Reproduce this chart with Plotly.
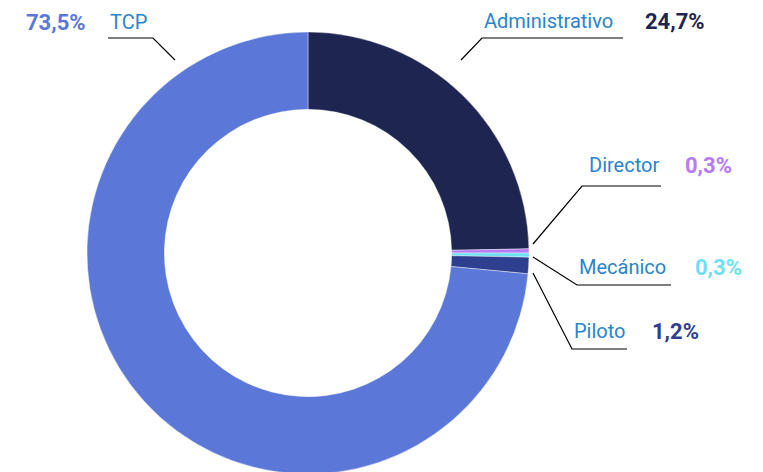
import plotly.graph_objects as go

W, H = 763, 472
OFF = 8  # page body margin

# Data
labels = ['Administrativo', 'Director', 'Mecánico', 'Piloto', 'TCP']
values = [24.7, 0.3, 0.3, 1.2, 73.5]
pct_text = ['24,7%', '0,3%', '0,3%', '1,2%', '73,5%']
colors = ['#1f2551', '#b57cf5', '#6fe0f0', '#2f3f8f', '#5b78d8']

# Label placement (page pixels): name x, pct x, text y, leader line points
label_pos = {
    'Administrativo': dict(nx=482, px=643, ty=21, line=[(623, 38), (482, 38), (461, 60)]),
    'Director': dict(nx=587, px=683, ty=165, line=[(661, 186), (582, 186), (533, 244)]),
    'Mecánico': dict(nx=577, px=693, ty=267, line=[(671, 285), (577, 285), (533, 257)]),
    'Piloto': dict(nx=572, px=650, ty=331, line=[(627, 349), (572, 349), (533, 273)]),
    'TCP': dict(nx=108, px=24, ty=22, line=[(108, 38), (153, 38), (175, 60)]),
}


def fx(x):
    return (x - OFF) / W


def fy(y):
    return 1 - (y - OFF) / H


fig = go.Figure(go.Pie(
    labels=labels, values=values, sort=False, direction='clockwise',
    hole=0.65, textinfo='none', showlegend=False,
    marker=dict(colors=colors, line=dict(color='white', width=0.4)),
    domain=dict(x=[fx(87), fx(529)], y=[fy(474), fy(32)]),
))

annotations = []
shapes = []
for lab, pct, col in zip(labels, pct_text, colors):
    p = label_pos[lab]
    annotations.append(dict(x=fx(p['nx']), y=fy(p['ty']), xref='paper', yref='paper',
                            text=lab, showarrow=False, xanchor='left', yanchor='middle',
                            font=dict(family='Roboto', size=20, color='#2a84cc')))
    annotations.append(dict(x=fx(p['px']), y=fy(p['ty']), xref='paper', yref='paper',
                            text='<b>' + pct + '</b>', showarrow=False, xanchor='left',
                            yanchor='middle',
                            font=dict(family='Roboto', size=22, color=col)))
    path = 'M ' + ' L '.join(f'{fx(x)},{fy(y)}' for x, y in p['line'])
    shapes.append(dict(type='path', path=path, xref='paper', yref='paper',
                       line=dict(color='black', width=1.2)))

fig.update_layout(
    width=W, height=H,
    margin=dict(l=0, r=0, t=0, b=0),
    paper_bgcolor='white', plot_bgcolor='white',
    annotations=annotations, shapes=shapes,
)

fig.write_html("out.html")
